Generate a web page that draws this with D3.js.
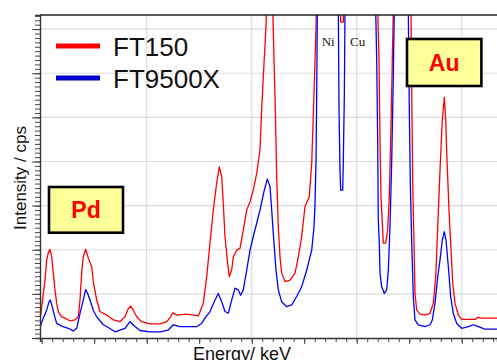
<!DOCTYPE html>
<html>
<head>
<meta charset="utf-8">
<script src="https://cdn.jsdelivr.net/npm/d3@7"></script>
<style>
  body { margin: 0; background: #fff; }
  svg { display: block; }
</style>
</head>
<body>
<svg id="chart" width="497" height="360"></svg>
<script>
// spectra (keV / cps); values above the frame are off-scale peaks
const ft150Energy = [1.97, 2.063, 2.095, 2.126, 2.158, 2.190, 2.221, 2.253, 2.286, 2.316, 2.381, 2.444, 2.539, 2.634, 2.697, 2.730, 2.762, 2.792, 2.838, 2.888, 2.952, 2.983, 3.048, 3.110, 3.238, 3.364, 3.491, 3.587, 3.650, 3.695, 3.745, 3.810, 3.905, 4.063, 4.253, 4.381, 4.457, 4.495, 4.571, 4.762, 4.888, 4.983, 5.078, 5.143, 5.206, 5.269, 5.333, 5.383, 5.429, 5.459, 5.491, 5.535, 5.573, 5.619, 5.650, 5.714, 5.777, 5.840, 5.905, 5.968, 6.030, 6.095, 6.158, 6.190, 6.221, 6.272, 6.349, 6.425, 6.450, 6.476, 6.507, 6.539, 6.571, 6.634, 6.730, 6.825, 6.888, 6.952, 7.015, 7.097, 7.143, 7.187, 7.225, 7.453, 7.660, 7.695, 7.745, 7.765, 8.050, 8.400, 8.425, 8.444, 8.463, 8.488, 8.507, 8.552, 8.590, 8.621, 8.653, 8.678, 8.697, 8.863, 9.034, 9.048, 9.067, 9.091, 9.110, 9.143, 9.206, 9.301, 9.396, 9.459, 9.505, 9.543, 9.587, 9.630, 9.669, 9.695, 9.720, 9.758, 9.790, 9.829, 9.872, 9.935, 10.000, 10.253, 10.310, 10.381, 10.672];
const ft150Counts = [41, 131, 177, 193, 201, 184, 147, 109, 79, 60, 48, 45, 39, 41, 48, 86, 147, 184, 201, 181, 162, 128, 86, 60, 52, 41, 37, 48, 67, 72, 63, 48, 37, 32, 32, 37, 48, 57, 52, 54, 52, 50, 79, 139, 215, 290, 351, 388, 366, 305, 230, 177, 139, 154, 184, 199, 203, 245, 290, 309, 335, 373, 426, 517, 592, 705, 1000, 630, 517, 366, 252, 184, 147, 128, 131, 147, 184, 230, 298, 320, 396, 555, 705, 2500, 850, 716, 716, 850, 3000, 740, 630, 442, 320, 260, 215, 215, 245, 320, 479, 630, 740, 1500, 740, 555, 351, 215, 101, 63, 54, 52, 56, 79, 139, 252, 381, 494, 545, 494, 403, 290, 215, 124, 79, 52, 42, 42, 47, 45, 45];

const ft9500Energy = [1.97, 2.030, 2.095, 2.139, 2.164, 2.202, 2.240, 2.286, 2.381, 2.507, 2.602, 2.667, 2.730, 2.792, 2.838, 2.876, 2.920, 2.983, 3.048, 3.173, 3.238, 3.396, 3.587, 3.682, 3.777, 3.872, 4.063, 4.253, 4.411, 4.507, 4.634, 4.952, 5.048, 5.110, 5.206, 5.301, 5.364, 5.429, 5.491, 5.554, 5.619, 5.682, 5.745, 5.790, 5.840, 5.905, 5.968, 6.030, 6.095, 6.158, 6.234, 6.297, 6.349, 6.381, 6.411, 6.463, 6.507, 6.571, 6.667, 6.762, 6.857, 6.952, 7.048, 7.143, 7.187, 7.206, 7.225, 7.238, 7.250, 7.453, 7.650, 7.663, 7.682, 7.695, 7.733, 7.745, 7.764, 7.777, 8.050, 8.362, 8.381, 8.400, 8.411, 8.430, 8.444, 8.476, 8.526, 8.571, 8.602, 8.634, 8.667, 8.697, 8.716, 8.844, 8.983, 9.002, 9.021, 9.048, 9.078, 9.110, 9.173, 9.301, 9.396, 9.440, 9.491, 9.543, 9.587, 9.630, 9.669, 9.701, 9.745, 9.790, 9.840, 9.905, 10.000, 10.126, 10.221, 10.316, 10.444, 10.672];
const ft9500Counts = [25, 45, 63, 82, 86, 71, 52, 33, 27, 22, 16, 22, 56, 86, 110, 101, 86, 63, 48, 30, 26, 14, 22, 37, 26, 17, 14, 14, 18, 30, 26, 26, 33, 45, 60, 86, 101, 82, 60, 56, 86, 113, 109, 97, 109, 154, 199, 230, 260, 290, 332, 360, 343, 290, 237, 154, 109, 82, 71, 75, 94, 116, 154, 199, 252, 305, 403, 555, 740, 2500, 740, 517, 381, 335, 335, 403, 547, 740, 2000, 740, 630, 442, 267, 215, 147, 116, 101, 109, 154, 252, 403, 592, 740, 1500, 740, 517, 351, 215, 94, 41, 30, 26, 30, 41, 79, 139, 177, 222, 241, 222, 162, 94, 56, 33, 22, 26, 30, 26, 20, 20];

const seriesNames = ["FT150", "FT9500X"];
const lineColors = ["#ff0000", "#0000ff"];
const legendColors = ["#ff0000", "#0000cc"];

const majorKeV = d3.range(2, 11, 1);
const minorKeV = d3.range(2, 10.7, 0.2);
const gridKeV = [4, 6, 8, 10];
const majorCps = d3.range(0, 701, 100);
const minorCps = d3.range(0, 732, 10);

const plot = {left: 40, right: 497, top: 15, bottom: 338};
const svg = d3.select("#chart");
const font = "'Liberation Sans', Arial, sans-serif";

const x = d3.scaleLinear().domain([1.968, 10.672]).range([plot.left, plot.right]);
const y = d3.scaleLinear().domain([0, 732]).range([plot.bottom, plot.top]);

// grid
svg.append("g")
    .attr("stroke", "#dcdcdc")
    .attr("stroke-width", 1.2)
    .selectAll("line.h")
    .data(majorCps.filter(d => d > 0))
    .join("line")
    .attr("x1", plot.left).attr("x2", plot.right)
    .attr("y1", d => y(d)).attr("y2", d => y(d));

svg.append("g")
    .attr("stroke", "#dcdcdc")
    .attr("stroke-width", 1.2)
    .selectAll("line")
    .data(gridKeV)
    .join("line")
    .attr("x1", d => x(d)).attr("x2", d => x(d))
    .attr("y1", plot.top).attr("y2", plot.bottom);

// spectra
svg.append("clipPath").attr("id", "clip")
    .append("rect")
    .attr("x", plot.left).attr("y", plot.top)
    .attr("width", plot.right - plot.left).attr("height", plot.bottom - plot.top);

const spectra = [
    d3.zip(ft150Energy, ft150Counts),
    d3.zip(ft9500Energy, ft9500Counts)
];

const line = d3.line().x(d => x(d[0])).y(d => y(d[1]));

svg.append("g")
    .attr("clip-path", "url(#clip)")
    .selectAll("path")
    .data(spectra)
    .join("path")
    .attr("fill", "none")
    .attr("stroke", (d, i) => lineColors[i])
    .attr("stroke-width", 1.3)
    .attr("stroke-linejoin", "round")
    .attr("d", line);

// axes
const axisX = svg.append("g").attr("transform", `translate(0,${plot.bottom})`);
axisX.append("g").call(d3.axisBottom(x).tickValues(minorKeV).tickSize(4).tickFormat(""));
axisX.append("g").call(d3.axisBottom(x).tickValues(majorKeV).tickSize(6).tickFormat(""))
    .select(".domain").remove();

const axisY = svg.append("g").attr("transform", `translate(${plot.left},0)`);
axisY.append("g").call(d3.axisLeft(y).tickValues(minorCps).tickSize(5).tickFormat(""));
axisY.append("g").call(d3.axisLeft(y).tickValues(majorCps).tickSize(8).tickFormat(""))
    .select(".domain").remove();

svg.selectAll(".domain").attr("stroke", "#333").attr("stroke-width", 1.4);
svg.selectAll(".tick line").attr("stroke", "#444");

svg.append("line")
    .attr("x1", plot.left).attr("x2", plot.right)
    .attr("y1", plot.top).attr("y2", plot.top)
    .attr("stroke", "#222").attr("stroke-width", 1.5);

// axis titles
svg.append("text")
    .attr("transform", "translate(25.5,178) rotate(-90)")
    .attr("text-anchor", "middle")
    .attr("font-family", font)
    .attr("font-size", 17)
    .attr("fill", "#111")
    .text("Intensity / cps");

svg.append("text")
    .attr("x", 242).attr("y", 359.6)
    .attr("text-anchor", "middle")
    .attr("font-family", font)
    .attr("font-size", 18)
    .attr("fill", "#111")
    .text("Energy/ keV");

// legend
const legend = svg.append("g")
    .selectAll("g")
    .data(seriesNames)
    .join("g")
    .attr("transform", (d, i) => `translate(0,${46 + i * 32})`);

legend.append("line")
    .attr("x1", 56).attr("x2", 100)
    .attr("stroke", (d, i) => legendColors[i])
    .attr("stroke-width", 5);

legend.append("text")
    .attr("x", 113).attr("y", 10)
    .attr("font-family", font)
    .attr("font-size", 26)
    .attr("fill", "#111")
    .text(d => d);

// element labels
const labels = svg.append("g")
    .attr("font-family", "'Liberation Serif', 'Times New Roman', serif")
    .attr("font-size", 13)
    .attr("fill", "#222");
labels.append("text").attr("x", 321.7).attr("y", 46).text("Ni");
labels.append("text").attr("x", 350).attr("y", 46).text("Cu");

const boxes = [
    {label: "Pd", x: 49, y: 187, w: 74, h: 45.7},
    {label: "Au", x: 407, y: 39, w: 74.4, h: 47}
];

const box = svg.append("g")
    .selectAll("g")
    .data(boxes)
    .join("g");

box.append("rect")
    .attr("x", d => d.x).attr("y", d => d.y)
    .attr("width", d => d.w).attr("height", d => d.h)
    .attr("fill", "#ffff99")
    .attr("stroke", "#000")
    .attr("stroke-width", 2.6);

box.append("text")
    .attr("x", d => d.x + d.w / 2)
    .attr("y", d => d.y + d.h / 2 + 8.2)
    .attr("text-anchor", "middle")
    .attr("font-family", font)
    .attr("font-weight", "bold")
    .attr("font-size", 23)
    .attr("fill", "#ff0000")
    .text(d => d.label);
</script>
</body>
</html>
